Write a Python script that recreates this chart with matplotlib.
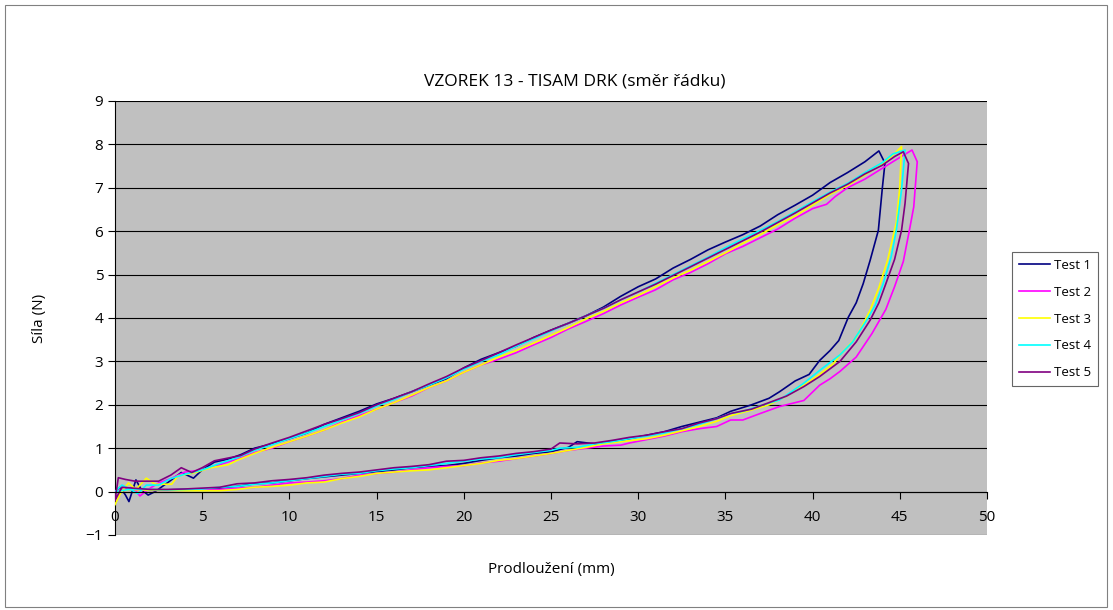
import matplotlib.pyplot as plt
from matplotlib.patches import Rectangle

# Test 1 (loading then unloading)
t1_x = [0, 0.3, 0.6, 0.8, 1.2, 1.5, 1.9, 2.3, 3.0, 3.8, 4.5, 5.0, 5.7, 6.5, 7.2, 8.0, 9.0, 10.0,
        11.0, 12.0, 13.0, 14.0, 15.0, 16.0, 17.0, 18.0, 19.0, 20.0, 21.0, 22.0, 23.0, 24.0, 25.0,
        26.0, 27.0, 28.0, 29.0, 30.0, 31.0, 32.0, 33.0, 34.0, 35.0, 36.0, 37.0, 38.0, 39.0, 40.0,
        41.0, 42.0, 43.0, 43.8,
        44.15, 44.0, 43.77, 43.3, 42.9, 42.5, 42.05, 41.5, 41.0, 40.4, 39.8, 39.0, 38.1, 37.5, 36.5,
        35.3, 34.5, 33.5, 32.5, 31.5, 30.5, 29.5, 28.5, 27.5, 26.5, 26.0, 25.0, 24.0, 23.0, 22.0,
        21.0, 20.0, 19.0, 18.0, 17.0, 16.0, 15.0, 14.0, 13.0, 12.0, 11.0, 10.0, 9.0, 8.0, 7.0, 6.0,
        5.0, 4.0, 3.0, 2.0, 1.0, 0]
t1_y = [0, 0.1, -0.08, -0.23, 0.27, 0.05, -0.08, 0.0, 0.2, 0.44, 0.31, 0.5, 0.68, 0.75, 0.85, 1.0,
        1.1, 1.22, 1.35, 1.55, 1.7, 1.85, 2.02, 2.15, 2.3, 2.45, 2.6, 2.85, 3.05, 3.2, 3.35, 3.55,
        3.72, 3.88, 4.05, 4.25, 4.5, 4.72, 4.9, 5.15, 5.35, 5.57, 5.75, 5.92, 6.12, 6.38, 6.6, 6.83,
        7.12, 7.35, 7.6, 7.85,
        7.57, 7.0, 6.02, 5.33, 4.79, 4.35, 4.02, 3.48, 3.25, 3.02, 2.7, 2.55, 2.3, 2.15, 2.0,
        1.85, 1.7, 1.6, 1.5, 1.38, 1.3, 1.22, 1.15, 1.1, 1.15, 1.02, 0.92, 0.88, 0.82, 0.78,
        0.72, 0.65, 0.6, 0.58, 0.55, 0.5, 0.46, 0.42, 0.38, 0.34, 0.3, 0.25, 0.2, 0.18, 0.12, 0.08,
        0.06, 0.05, 0.04, 0.04, 0.06, 0]

# Test 2
t2_x = [0, 0.4, 1.0, 1.43, 1.9, 2.5, 3.2, 4.0, 5, 6, 7, 8, 9, 10, 11, 12, 13, 14, 15, 16, 17, 18,
        19, 20, 21, 22, 23, 24, 25, 26, 27, 28, 29, 30, 31, 32, 33, 34, 35, 36, 37, 38, 39, 40,
        40.8, 41.3, 42, 43, 44, 45, 45.7,
        46.0, 45.8, 45.55, 45.2, 44.7, 44.2, 43.4, 42.5, 41.57, 41.0, 40.4, 39.5, 38.5, 38.1, 37,
        36, 35.3, 34.5, 33.5, 32.5, 31.5, 30.5, 29.5, 29, 28, 27, 26, 25, 24, 23, 22, 21, 20, 19,
        18, 17, 16, 15, 14, 13, 12, 11, 10, 9, 8, 7, 6, 5, 4, 3, 2, 1, 0]
t2_y = [0, 0.05, 0.1, -0.1, 0.05, 0.2, 0.3, 0.45, 0.5, 0.62, 0.75, 0.9, 1.0, 1.15, 1.28, 1.42, 1.6,
        1.75, 1.9, 2.05, 2.2, 2.4, 2.55, 2.75, 2.92, 3.05, 3.2, 3.38, 3.55, 3.75, 3.92, 4.1, 4.3,
        4.48, 4.65, 4.88, 5.05, 5.25, 5.48, 5.65, 5.85, 6.05, 6.3, 6.52, 6.62, 6.8, 7.0, 7.2, 7.45,
        7.7, 7.87,
        7.6, 6.56, 6.02, 5.3, 4.72, 4.2, 3.64, 3.1, 2.77, 2.6, 2.45, 2.1, 2.0, 1.96, 1.8, 1.65,
        1.65, 1.5, 1.45, 1.38, 1.28, 1.2, 1.12, 1.07, 1.05, 1.0, 0.95, 0.88, 0.82, 0.76, 0.7, 0.66,
        0.6, 0.58, 0.55, 0.5, 0.45, 0.42, 0.38, 0.3, 0.25, 0.22, 0.2, 0.15, 0.1, 0.08, 0.05, 0.04,
        0.03, 0.03, 0.03, 0.05, 0]

# Test 3
t3_x = [0, 0.3, 0.77, 1.2, 1.8, 2.3, 3.25, 3.6, 4.6, 5.5, 6.5, 7, 8, 9, 10, 11, 12, 13, 14, 15, 16,
        17, 18, 19, 20, 21, 22, 23, 24, 25, 26, 27, 28, 29, 30, 31, 32, 33, 34, 35, 36, 37, 38,
        39, 40, 41, 42, 43, 44, 44.6, 45.1,
        45.0, 44.8, 44.3, 43.8, 43.3, 42.5, 41.57, 41.2, 40.4, 39.5, 38.5, 37.5, 36.5, 35.3, 34.5,
        33.5, 32.5, 31.5, 30.5, 29, 28, 27, 26, 25, 24, 23, 22, 21, 20, 19, 18, 17, 16, 15, 14, 13,
        12, 11, 10, 9, 8, 7, 6, 5, 4, 3, 2, 1, 0]
t3_y = [-0.3, -0.05, 0.2, 0.05, 0.31, 0.17, 0.17, 0.36, 0.44, 0.55, 0.62, 0.72, 0.88, 1.02, 1.15,
        1.28, 1.42, 1.58, 1.72, 1.9, 2.05, 2.22, 2.4, 2.55, 2.75, 2.92, 3.1, 3.25, 3.42, 3.6, 3.78,
        3.98, 4.15, 4.35, 4.52, 4.72, 4.92, 5.1, 5.3, 5.5, 5.72, 5.92, 6.15, 6.35, 6.6, 6.85, 7.05,
        7.3, 7.55, 7.75, 7.95,
        7.02, 6.2, 5.33, 4.7, 4.18, 3.55, 3.15, 2.95, 2.7, 2.45, 2.2, 2.0, 1.88, 1.75, 1.62,
        1.5, 1.4, 1.3, 1.22, 1.15, 1.1, 1.02, 0.95, 0.88, 0.82, 0.76, 0.72, 0.65, 0.6, 0.55, 0.5,
        0.48, 0.45, 0.42, 0.35, 0.3, 0.22, 0.2, 0.15, 0.12, 0.1, 0.05, 0.02, 0.02, 0.02, 0.03,
        0.03, 0.05, 0]

# Test 4
t4_x = [0, 0.4, 0.9, 1.3, 1.8, 2.5, 3.2, 4, 5, 6, 7, 8, 9, 10, 11, 12, 13, 14, 15, 16, 17, 18, 19,
        20, 21, 22, 23, 24, 25, 26, 27, 28, 29, 30, 31, 32, 33, 34, 35, 36, 37, 38, 39, 40, 41,
        42, 43, 44, 44.6, 45.3,
        45.2, 45.1, 44.8, 44.5, 44.05, 43.6, 43.1, 42.3, 41.57, 40.4, 39.5, 38.1, 37, 36, 35.3,
        34.5, 33.5, 32.5, 31.5, 30.5, 29.5, 28.5, 27.5, 26.5, 25.5, 25, 24, 23, 22, 21, 20, 19, 18,
        17, 16, 15, 14, 13, 12, 11, 10, 9, 8, 7, 6, 5, 4, 3, 2, 1, 0]
t4_y = [0, 0.15, 0.05, -0.05, 0.15, 0.15, 0.3, 0.4, 0.5, 0.65, 0.78, 0.95, 1.08, 1.22, 1.35, 1.5,
        1.65, 1.8, 1.97, 2.12, 2.3, 2.45, 2.62, 2.82, 3.0, 3.15, 3.35, 3.52, 3.7, 3.88, 4.05, 4.22,
        4.42, 4.6, 4.8, 5.0, 5.2, 5.4, 5.62, 5.82, 6.02, 6.22, 6.45, 6.68, 6.9, 7.1, 7.35, 7.58,
        7.78, 7.87,
        7.4, 6.95, 6.02, 5.4, 4.79, 4.3, 3.95, 3.45, 3.15, 2.79, 2.5, 2.11, 1.98, 1.85, 1.8,
        1.68, 1.55, 1.45, 1.35, 1.28, 1.22, 1.15, 1.1, 1.02, 1.0, 0.95, 0.9, 0.85, 0.78, 0.75, 0.7,
        0.65, 0.6, 0.55, 0.52, 0.48, 0.42, 0.4, 0.35, 0.3, 0.25, 0.2, 0.17, 0.12, 0.1, 0.06, 0.05,
        0.04, 0.05, 0.06, 0]

# Test 5
t5_x = [0, 0.19, 0.6, 1.15, 2.5, 3.2, 3.8, 4.4, 5, 5.7, 7.2, 8, 9, 10, 11, 12, 13, 14, 15, 16, 17,
        18, 19, 20, 21, 22, 23, 24, 25, 26, 27, 28, 29, 30, 31, 32, 33, 34, 35, 36, 37, 38, 39,
        40, 41, 42, 43, 44, 44.7, 45.2,
        45.5, 45.4, 45.3, 45.1, 44.7, 44.2, 43.8, 43.3, 42.5, 41.57, 40.4, 39.5, 38.5, 37.5, 36.5,
        35.3, 34.5, 33.5, 32.5, 31.5, 30.5, 29.5, 28.5, 27.5, 26.5, 25.5, 25, 24, 23, 22, 21, 20,
        19, 18, 17, 16, 15, 14, 13, 12, 11, 10, 9, 8, 7, 6, 5, 4, 3, 2, 1, 0.4, 0]
t5_y = [-0.2, 0.32, 0.28, 0.24, 0.24, 0.38, 0.55, 0.44, 0.55, 0.71, 0.83, 0.98, 1.12, 1.25, 1.4,
        1.55, 1.68, 1.82, 2.0, 2.15, 2.3, 2.48, 2.65, 2.85, 3.02, 3.2, 3.38, 3.55, 3.72, 3.88,
        4.05, 4.22, 4.42, 4.6, 4.78, 4.98, 5.18, 5.38, 5.58, 5.78, 5.98, 6.2, 6.42, 6.65, 6.88,
        7.08, 7.32, 7.52, 7.72, 7.83,
        7.56, 7.1, 6.64, 6.02, 5.35, 4.79, 4.35, 3.95, 3.45, 3.0, 2.65, 2.42, 2.2, 2.05, 1.9,
        1.8, 1.68, 1.58, 1.45, 1.38, 1.3, 1.25, 1.18, 1.12, 1.1, 1.12, 0.98, 0.92, 0.88, 0.82,
        0.78, 0.72, 0.7, 0.62, 0.58, 0.55, 0.5, 0.45, 0.42, 0.38, 0.32, 0.28, 0.25, 0.2, 0.18,
        0.1, 0.08, 0.06, 0.05, 0.05, 0.08, 0.1, -0.2]

series = [
    ('Test 1', t1_x, t1_y, '#000080'),
    ('Test 2', t2_x, t2_y, '#FF00FF'),
    ('Test 3', t3_x, t3_y, '#FFFF00'),
    ('Test 4', t4_x, t4_y, '#00FFFF'),
    ('Test 5', t5_x, t5_y, '#800080'),
]

plt.rcParams['font.family'] = ['Open Sans', 'DejaVu Sans']

fig = plt.figure(figsize=(11.13, 6.1), dpi=100)
ax = fig.add_axes([115 / 1113, 1 - 535 / 610, (987 - 115) / 1113, (535 - 101) / 610])
ax.set_facecolor('#C0C0C0')

# outer chart border
fig.patches.append(Rectangle((5 / 1113, 3 / 610), 1102 / 1113, 602 / 610, transform=fig.transFigure,
                             fill=False, edgecolor='#808080', linewidth=0.8))

for yv in range(-1, 10):
    ax.axhline(yv, color='black', linewidth=0.8, zorder=1)

for name, xs, ys, col in series:
    ax.plot(xs, ys, color=col, linewidth=1.2, label=name, zorder=3)

ax.set_xlim(0, 50)
ax.set_ylim(-1, 9)
ax.set_xticks(range(0, 51, 5))
ax.set_yticks(range(-1, 10))

for s in ['top', 'right']:
    ax.spines[s].set_visible(False)
ax.spines['bottom'].set_position(('data', 0))
ax.spines['bottom'].set_zorder(4)
ax.spines['left'].set_color('black')
ax.spines['left'].set_linewidth(0.8)
ax.spines['bottom'].set_linewidth(0.8)
ax.tick_params(axis='both', labelsize=11, direction='out', length=5, width=0.8, colors='black')
ax.tick_params(axis='x', pad=8)

fig.text(575 / 1113, 1 - 82 / 610, 'VZOREK 13 - TISAM DRK (směr řádku)', ha='center', va='center',
         fontsize=12.5)
fig.text(551 / 1113, 1 - 569 / 610, 'Prodloužení (mm)', ha='center', va='center', fontsize=11)
fig.text(40 / 1113, 1 - 318 / 610, 'Síla (N)', ha='center', va='center', rotation=90, fontsize=11)

leg = fig.legend(loc='center left', bbox_to_anchor=(1012 / 1113, 1 - 319 / 610), fontsize=9.5,
                 frameon=True, fancybox=False, edgecolor='#404040', handlelength=2.3,
                 labelspacing=1.05, borderpad=0.55, handletextpad=0.3, borderaxespad=0)
leg.get_frame().set_linewidth(0.8)

plt.savefig('out.png', dpi=100)
